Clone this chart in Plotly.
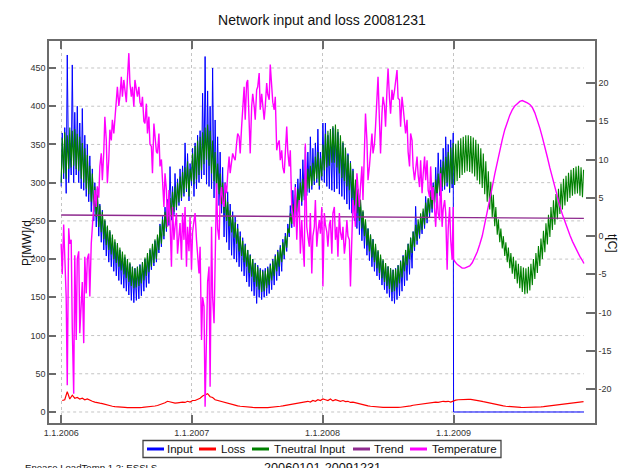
import pandas as pd
import plotly.graph_objects as go

# ---------------- data ----------------
# one entry per week; weeks start on Sunday 2006-01-01.
# "lo" values sit on the Sunday (weekend level), "hi" values on the Wednesday (weekday level)
first_sunday = "2006-01-01"
n_weeks = 209

tneutral_hi_2006 = [358, 366, 362, 372, 368, 370, 364, 360, 352, 345, 336, 322, 312, 295, 285,
                    270, 262, 252, 244, 238, 232, 226, 221, 215, 210, 206, 200, 196, 190, 188,
                    190, 192, 196, 202, 208, 214, 220, 226, 232, 244, 252, 262, 272, 280, 288,
                    295, 300, 308, 314, 320, 328, 318, 338]
tneutral_lo_2006 = [300, 312, 305, 318, 320, 322, 318, 315, 305, 300, 292, 285, 275, 262, 255,
                    242, 235, 226, 218, 212, 206, 200, 195, 190, 185, 180, 175, 170, 165, 162,
                    163, 165, 168, 172, 178, 183, 190, 195, 200, 212, 220, 230, 240, 248, 255,
                    262, 268, 274, 280, 286, 292, 282, 302]
tneutral_hi_2007 = [348, 355, 360, 366, 372, 376, 368, 355, 340, 325, 312, 300, 286, 275, 264,
                    256, 248, 240, 230, 224, 218, 212, 205, 200, 194, 190, 186, 184, 185, 188,
                    192, 198, 204, 210, 215, 222, 230, 240, 260, 272, 284, 292, 300, 305, 312,
                    318, 322, 326, 334, 340, 332, 350]
tneutral_lo_2007 = [298, 304, 310, 316, 324, 330, 322, 312, 302, 292, 285, 272, 260, 250, 243,
                    235, 228, 220, 210, 204, 196, 190, 182, 177, 170, 164, 160, 157, 158, 162,
                    166, 172, 178, 184, 190, 196, 205, 215, 234, 246, 255, 262, 270, 275, 282,
                    288, 292, 296, 302, 305, 296, 308]
tneutral_hi_2008 = [364, 368, 370, 374, 376, 370, 362, 354, 346, 336, 326, 316, 304, 292, 278,
                    264, 252, 240, 232, 226, 220, 212, 206, 200, 195, 191, 188, 186, 187, 192,
                    197, 204, 212, 220, 228, 236, 245, 252, 260, 266, 274, 280, 288, 296, 304,
                    312, 320, 328, 334, 340, 346, 352]
tneutral_lo_2008 = [316, 320, 322, 326, 326, 320, 312, 306, 302, 295, 290, 280, 270, 260, 250,
                    240, 230, 218, 210, 202, 196, 188, 182, 175, 170, 165, 161, 157, 158, 163,
                    168, 176, 184, 192, 200, 208, 216, 224, 232, 238, 245, 252, 260, 266, 274,
                    282, 288, 294, 296, 300, 292, 298]
tneutral_hi_2009 = [351, 355, 358, 360, 362, 362, 361, 359, 356, 351, 345, 338, 328, 315, 301,
                    284, 268, 252, 240, 230, 222, 215, 208, 203, 198, 194, 191, 189, 188, 190,
                    194, 200, 208, 217, 227, 237, 247, 258, 268, 277, 285, 292, 299, 305, 309,
                    313, 317, 319, 321, 322, 320, 317]
tneutral_lo_2009 = [297, 302, 306, 310, 313, 315, 314, 312, 308, 303, 298, 293, 285, 275, 265,
                    255, 243, 232, 222, 214, 204, 196, 188, 181, 174, 168, 162, 157, 154, 155,
                    159, 166, 174, 182, 191, 200, 209, 219, 229, 238, 245, 252, 259, 265, 270,
                    275, 280, 283, 285, 286, 283, 281]

input_hi_2006 = [365, 372, 467, 352, 454, 392, 400, 378, 397, 362, 350, 335, 318, 300, 292,
                 272, 264, 250, 242, 236, 228, 222, 218, 212, 206, 202, 198, 194, 190, 188,
                 190, 193, 196, 200, 206, 212, 218, 224, 230, 246, 256, 268, 278, 321, 295,
                 312, 305, 318, 322, 352, 338, 325, 345]
input_lo_2006 = [295, 305, 286, 300, 310, 300, 310, 300, 292, 290, 282, 275, 262, 250, 242,
                 230, 222, 212, 204, 196, 190, 184, 178, 172, 167, 162, 158, 153, 146, 143,
                 146, 148, 152, 158, 163, 168, 186, 191, 196, 208, 216, 226, 236, 244, 251,
                 258, 264, 270, 276, 282, 288, 276, 296]
input_hi_2007 = [352, 362, 368, 417, 465, 420, 400, 450, 382, 360, 340, 320, 300, 288, 272,
                 262, 255, 246, 236, 228, 220, 212, 206, 200, 195, 192, 188, 186, 188, 190,
                 194, 200, 206, 212, 218, 226, 234, 246, 270, 290, 298, 305, 318, 330, 347,
                 340, 360, 345, 352, 370, 340, 378]
input_lo_2007 = [282, 292, 300, 305, 310, 298, 295, 292, 280, 275, 270, 260, 229, 222, 212,
                 205, 200, 196, 190, 184, 178, 170, 164, 158, 152, 142, 150, 147, 150, 152,
                 155, 160, 166, 172, 178, 184, 200, 210, 229, 241, 250, 257, 265, 270, 277,
                 283, 287, 291, 297, 300, 291, 303]
input_hi_2008 = [378, 362, 365, 372, 370, 366, 358, 352, 345, 338, 328, 318, 300, 290, 276,
                 262, 250, 240, 232, 226, 218, 210, 204, 198, 194, 190, 188, 186, 188, 192,
                 198, 205, 212, 220, 228, 236, 269, 245, 255, 262, 282, 278, 290, 300, 320,
                 339, 330, 345, 360, 350, 356, 365]
input_lo_2008 = [300, 295, 292, 290, 288, 292, 285, 282, 278, 272, 265, 260, 250, 240, 232,
                 224, 214, 205, 198, 190, 184, 178, 173, 166, 160, 155, 150, 145, 142, 147,
                 152, 158, 165, 172, 180, 188, 211, 219, 227, 233, 240, 247, 255, 261, 269,
                 277, 283, 289, 291, 295, 287, 293]
input_2009_dates = ["2009-01-01", "2009-12-31"]
input_2009 = [0, 0]

# weekly loss (placed mid-week)
loss_2006 = [15, 16, 26.6, 17, 22, 18, 19, 17, 18, 16, 17, 15, 14, 13, 12,
             11.5, 11, 10, 9, 8, 7.5, 7, 6.5, 6.2, 6, 6, 5.8, 5.6, 5.5, 5.5,
             5.6, 5.8, 6, 6.2, 6.5, 6.8, 7.2, 7.8, 8.5, 9.5, 10.5, 12, 14, 13, 12,
             11.5, 12, 12.5, 13, 12.5, 14, 13, 15]
loss_2007 = [15, 16, 18, 21, 22, 24, 20, 19, 16, 15, 14, 13, 12, 11, 10,
             9.5, 9, 8, 7.5, 7, 6.8, 6.5, 6.2, 6, 5.8, 5.6, 5.5, 5.5, 5.6, 5.8,
             6, 6.2, 6.5, 7, 7.5, 8, 8.5, 9, 9.6, 10.5, 11.5, 12, 12.5, 13, 13.5,
             14, 13, 15, 14, 16, 15, 17]
loss_2008 = [16, 15, 17, 14.5, 16, 15, 14, 15, 13.5, 14, 12.5, 13, 12, 11, 10.5,
             10, 9, 8, 7.5, 7, 6.8, 6.5, 6.2, 6, 6, 5.8, 5.8, 5.7, 5.8, 6,
             6.2, 6.5, 7, 7.5, 8, 8.8, 9.2, 9.8, 10.5, 11, 11.5, 12, 12.2, 12.5, 13,
             12.5, 13.5, 14, 13.5, 14, 13, 14.5]
loss_2009 = [15.5, 16, 16.3, 16.5, 16.6, 16.6, 16.4, 16.1, 15.6, 15, 14.3, 13.5, 12.7, 11.9, 11.1,
             10.3, 9.6, 9, 8.4, 7.9, 7.5, 7.1, 6.8, 6.5, 6.3, 6.1, 6, 5.9, 5.9, 5.9,
             6, 6.1, 6.3, 6.5, 6.8, 7.1, 7.5, 7.9, 8.3, 8.8, 9.3, 9.8, 10.3, 10.8, 11.3,
             11.8, 12.2, 12.6, 13, 13.3, 13.5, 13.6]

# temperature, two readings per week (Sunday, Wednesday) for 2006-2008
temp_2006 = [-1, -5, 1.5, -2.5, -8, -19.5, 1, -1, -0.5, -12, -20.6, -2.5, -13.6, -3, -2,
             -12.7, -8.4, -6, -14, -2.7, -7.5, -3, -2.3, -7.9, -1, 1.2, 3, 6, 3.8, 6.5,
             5, 9.1, 10.8, 7.3, 11, 15.6, 12.5, 6.9, 10, 13.9, 12.5, 15.2, 13.4, 15, 16.9,
             19.5, 17, 18.2, 20.8, 18.2, 20.4, 19.1, 17.5, 20.5, 23.9, 20, 18.2, 19.5, 16.9, 20.4,
             19, 18.2, 19.5, 17.5, 16.9, 18.2, 15, 14.7, 17.3, 13.4, 15.6, 12, 11.7, 8.2, 14.7,
             13, 11, 10.8, 13.4, 9.1, 10, 7.3, 3.8, 8.2, 6, 1.2, 6, 2, -4, 3.8,
             -0.5, 1.2, 3, -2.3, -0.5, 1.7, -3.1, 3, -0.5, 3.8, -4, 1.2, -2, 2.5, -4.4, 0.5]
temp_2007 = [2, 3, -0.5, -3, -4.9, -1.4, -13.6, -8, -9.2, -22.3, -11.9, -6, -4, -19.7, 1.2,
             -8, -11.4, -0.5, 6.9, 1, -0.5, 4.7, 6.4, 4.5, 3.8, 6.9, 5.6, 8, 10.4, 8.2,
             9.5, 10.8, 10.2, 9.9, 12.1, 13.4, 13, 10.8, 14.3, 17, 19.5, 15.2, 20, 20.4, 16,
             10.8, 16.9, 18.6, 17, 15.2, 19.1, 19.5, 21.3, 16.5, 18.6, 17, 15.2, 16.9, 20, 18.5,
             17.8, 22.4, 19.1, 17.5, 16.5, 18.2, 11.2, 12, 12.5, 9.9, 11.2, 9, 8.2, 10.8, 14.3,
             11, 9.1, 11.2, 3.8, 2.5, 1.2, 6.4, -0.5, 3, 4.7, -2.3, 2.1, -1, -4, 12.1,
             1.2, 0, -1.4, 3, -4.9, 0, 1.2, 4.7, -1.4, 0.5, 2.1, 0.3, 3.8, -6.6]
temp_2008 = [3, 1.5, 0.5, -1.4, 1.5, 2.1, -2.3, 3, 3.8, -0.5, 1.2, -2.7, 3, 0.5, -0.5,
             1.2, -2.3, -1, 2.1, 0, -0.5, -6.6, 1.7, 4.7, 3, 1.2, 8.2, 6, 3.8, 6.4,
             9.1, 4.7, 10, 16, 12.5, 7.3, 9.1, 11, 13.4, 10.8, 12, 14.3, 18.6, 20.8, 15,
             10.8, 16, 18.2, 17, 14.3, 19.1, 21.9, 18, 16, 19.1, 17.8, 19, 20.4, 21.7, 18,
             17.8, 14.3, 18.2, 16.9, 15, 13.4, 15.2, 11, 9.1, 13.4, 12.5, 9, 7.3, 9.1, 10.4,
             8, 6.4, 9.9, 5.6, 8, 10.4, 7.3, 9.9, 6, 5.1, 9.1, 4.7, 6.4, 3, 1.2,
             5.6, 3, 2.1, 8.2, 1.2, 3.5, 4.7, 3, -4.4, 1, 3.8, -0.5, -3.1, 3.8]
# 2009: 1 Jan, then every Sunday, then 31 Dec
temp_2009 = [-3.0,
             -3.3, -3.7, -4.0, -4.2, -4.2, -4.1, -3.9, -3.5, -2.9, -2.1, -1.1, 0.0, 1.6,
             3.1, 4.7, 6.4, 8.1, 9.7, 11.2, 12.6, 13.9, 14.9, 15.8, 16.5, 17.0, 17.3,
             17.6, 17.7, 17.6, 17.4, 17.2, 16.8, 16.1, 15.2, 14.1, 12.9, 11.7, 10.3, 8.9,
             7.6, 6.4, 5.1, 3.9, 2.8, 1.8, 0.9, 0.1, -0.7, -1.4, -2.1, -2.7, -3.2,
             -3.6]

trend_dates = ["2006-01-01", "2009-12-31"]
trend_values = [257.7, 253.3]

left_ticks = [0, 50, 100, 150, 200, 250, 300, 350, 400, 450]
right_ticks = [-20, -15, -10, -5, 0, 5, 10, 15, 20]
right_tick_text = ["-20", "-15", "-10", "-5", "0", "5", "10", "15", "20"]
x_ticks = ["2006-01-01", "2007-01-01", "2008-01-01", "2009-01-01"]
x_tick_text = ["1.1.2006", "1.1.2007", "1.1.2008", "1.1.2009"]

series_names = ["Input", "Loss", "Tneutral Input", "Trend", "Temperature"]
series_colors = ["#0000ff", "#ff0000", "#008000", "#8e2a8e", "#ff00ff"]

# ---------------- build positions ----------------
sundays = list(pd.date_range(first_sunday, periods=n_weeks, freq="7D"))
wednesdays = [d + pd.Timedelta(days=3) for d in sundays]
zig_x = [d for s, w in zip(sundays, wednesdays) for d in (s, w)]


def zigzag(lo, hi):
    return [v for a, b in zip(lo, hi) for v in (a, b)]


tneutral_y = zigzag(tneutral_lo_2006 + tneutral_lo_2007 + tneutral_lo_2008 + tneutral_lo_2009,
                    tneutral_hi_2006 + tneutral_hi_2007 + tneutral_hi_2008 + tneutral_hi_2009)
input_y = zigzag(input_lo_2006 + input_lo_2007 + input_lo_2008,
                 input_hi_2006 + input_hi_2007 + input_hi_2008) + input_2009
input_x = zig_x[:len(input_y) - len(input_2009)] + list(pd.to_datetime(input_2009_dates))

temp_hist = temp_2006 + temp_2007 + temp_2008
temp_x = (zig_x[:len(temp_hist)] + [pd.Timestamp("2009-01-01")] + sundays[157:]
          + [pd.Timestamp("2009-12-31")])
temp_y = temp_hist + temp_2009

loss_y = loss_2006 + loss_2007 + loss_2008 + loss_2009

# ---------------- figure ----------------
W, H = 630, 468
L, R, T, B = 49, 595, 41, 423


def px(xp):
    return (xp - L) / (R - L)


def py(yp):
    return (B - yp) / (B - T)


font = "Liberation Sans, Arial, sans-serif"
fig = go.Figure()
fig.add_trace(go.Scatter(x=input_x, y=input_y, mode="lines", name=series_names[0],
                         line=dict(color=series_colors[0], width=1.0)))
fig.add_trace(go.Scatter(x=wednesdays, y=loss_y, mode="lines", name=series_names[1],
                         line=dict(color=series_colors[1], width=1.2)))
fig.add_trace(go.Scatter(x=zig_x, y=tneutral_y, mode="lines", name=series_names[2],
                         line=dict(color=series_colors[2], width=1.1)))
fig.add_trace(go.Scatter(x=trend_dates, y=trend_values, mode="lines", name=series_names[3],
                         line=dict(color=series_colors[3], width=1.3)))
fig.add_trace(go.Scatter(x=temp_x, y=temp_y, mode="lines", name=series_names[4], yaxis="y2",
                         line=dict(color=series_colors[4], width=1.4)))

axis_line = "#6b6b6b"
grid_col = "#c4c4c4"
fig.update_layout(
    width=W, height=H,
    margin=dict(l=L, r=W - R, t=T, b=H - B),
    paper_bgcolor="white", plot_bgcolor="white",
    showlegend=False,
    font=dict(family=font, size=9, color="#333333"),
    title=dict(text="Network input and loss 20081231", x=0.5, xref="paper", xanchor="center",
               y=1 - 20 / H, yref="container", yanchor="middle",
               font=dict(family=font, size=14, color="#111111")),
    xaxis=dict(type="date", range=["2005-11-28", "2010-01-31"],
               tickvals=x_ticks, ticktext=x_tick_text,
               ticks="inside", ticklen=8, tickwidth=1.5, tickcolor=axis_line,
               showline=True, linecolor=axis_line, linewidth=1.5, mirror="ticks",
               showgrid=True, gridcolor=grid_col, griddash="dot", gridwidth=1,
               zeroline=False, tickfont=dict(size=9, color="#333333")),
    yaxis=dict(range=[-14.4, 485.3], tickvals=left_ticks,
               ticks="inside", ticklen=7, tickwidth=1.5, tickcolor=axis_line,
               showline=True, linecolor=axis_line, linewidth=1.5,
               showgrid=False, zeroline=False, tickfont=dict(size=9, color="#333333")),
    yaxis2=dict(range=[-24.44, 25.49], overlaying="y", side="right",
                tickvals=right_ticks, ticktext=right_tick_text,
                ticks="inside", ticklen=9, tickwidth=1.5, tickcolor=axis_line,
                showline=True, linecolor=axis_line, linewidth=1.5,
                showgrid=False, zeroline=False, tickfont=dict(size=9, color="#333333")),
)

# horizontal dotted grid across the data span only
for v in left_ticks:
    fig.add_shape(type="line", xref="x", yref="y", x0=trend_dates[0], x1=trend_dates[1],
                  y0=v, y1=v, line=dict(color=grid_col, width=1, dash="dot"), layer="below")

# axis titles
fig.add_annotation(text="P[MW]/d", xref="paper", yref="paper", x=px(18), y=py(243),
                   textangle=-90, showarrow=False, font=dict(family=font, size=12, color="#111111"))
fig.add_annotation(text="t[C]", xref="paper", yref="paper", x=px(621), y=py(243),
                   textangle=90, showarrow=False, font=dict(family=font, size=12, color="#111111"))

# legend box
fig.add_shape(type="rect", xref="paper", yref="paper", x0=px(143), x1=px(501),
              y0=py(457.5), y1=py(440.5), line=dict(color="#444444", width=1.3),
              fillcolor="white")
legend_line_x = [147, 199, 252, 353, 410]
legend_text_x = [166, 220, 273, 373, 431]
for name, col, lx, tx in zip(series_names, series_colors, legend_line_x, legend_text_x):
    fig.add_shape(type="line", xref="paper", yref="paper", x0=px(lx), x1=px(lx + 17),
                  y0=py(449), y1=py(449), line=dict(color=col, width=3))
    fig.add_annotation(text=name, xref="paper", yref="paper", x=px(tx - 1), y=py(449),
                       xanchor="left", yanchor="middle", showarrow=False,
                       font=dict(family=font, size=11.5, color="#111111"))

# footer (partly below the visible window, as in the reference)
fig.add_annotation(text="Enease LoadTemp 1.2: ESSLS", xref="paper", yref="paper",
                   x=px(23), y=py(467), xanchor="left", yanchor="middle", showarrow=False,
                   font=dict(family=font, size=9.6, color="#111111"))
fig.add_annotation(text="20060101-20091231", xref="paper", yref="paper",
                   x=px(322), y=py(468), xanchor="center", yanchor="middle", showarrow=False,
                   font=dict(family=font, size=12.7, color="#111111"))

fig.write_html("out.html", config={"displayModeBar": False},
               post_script="document.body.style.margin='0px';")
